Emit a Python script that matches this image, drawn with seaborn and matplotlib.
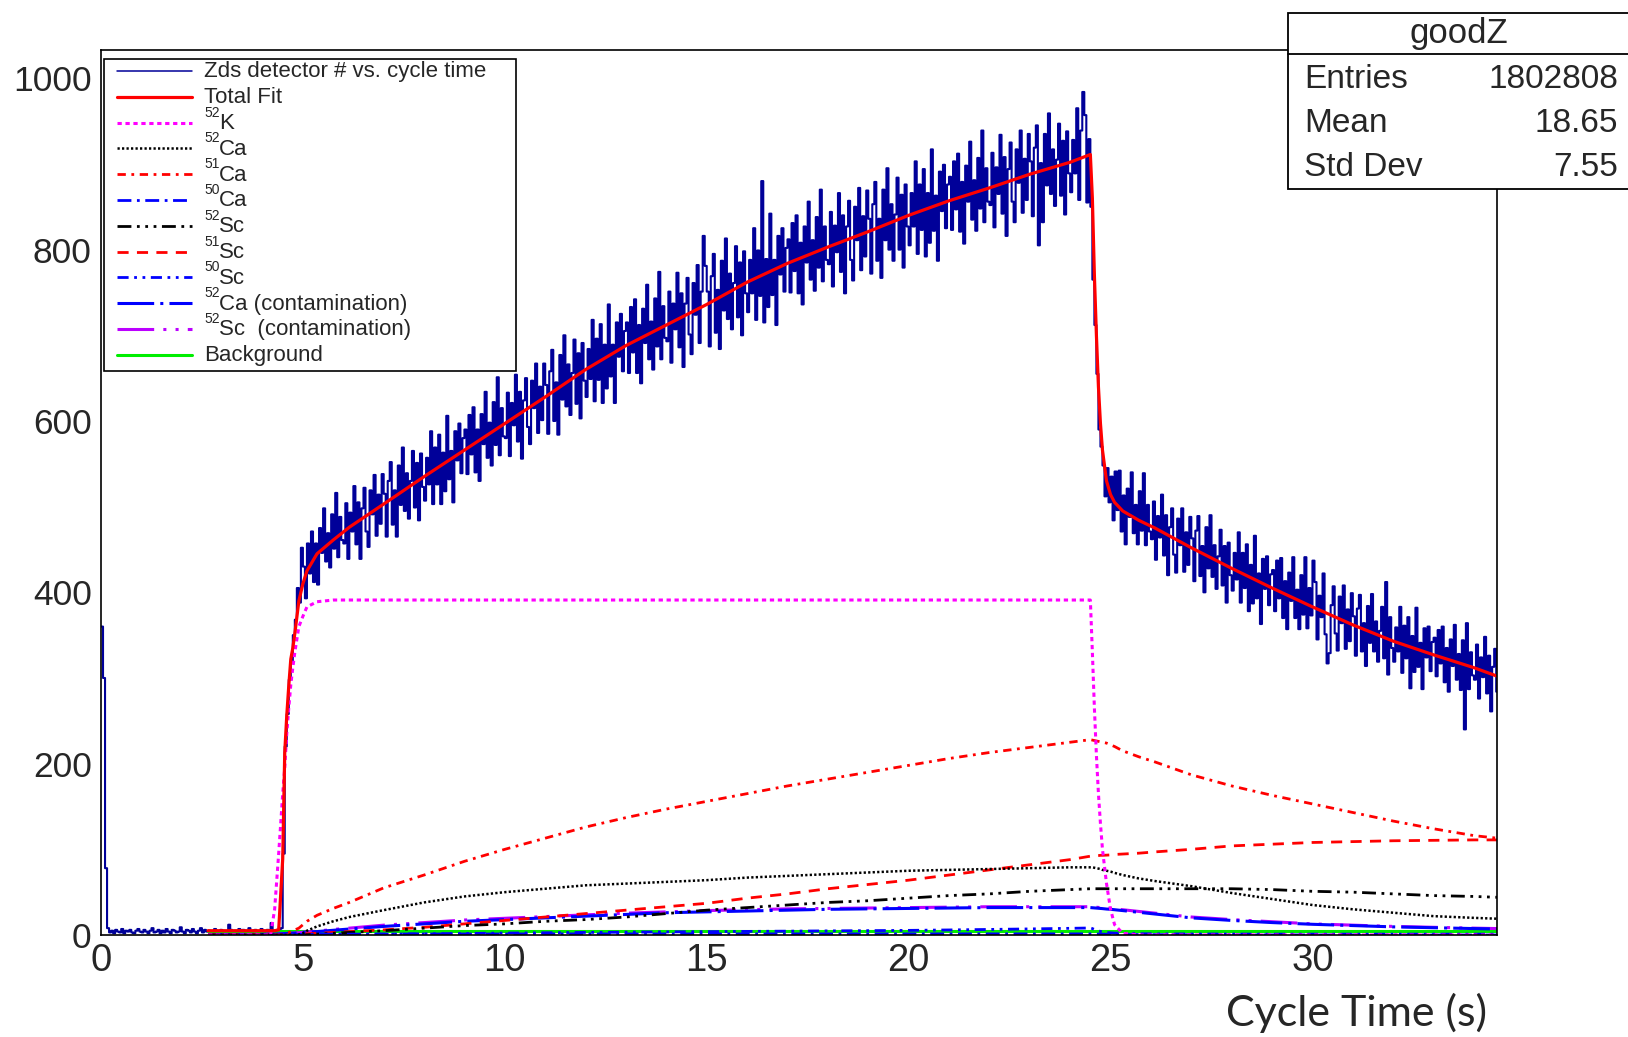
import matplotlib
matplotlib.use("Agg")
import matplotlib.pyplot as plt
from matplotlib import font_manager
from matplotlib.lines import Line2D
from matplotlib.patches import Rectangle
from matplotlib.ticker import MultipleLocator
import pandas as pd
import seaborn as sns

# Zds detector counts in 0.05 s cycle-time bins (one row per second)
bin_width = 0.05
counts = [
    360, 300, 78, 8, 3, 5, 2, 6, 4, 3, 7, 2, 5, 4, 6, 3, 2, 5, 7, 4,
    3, 6, 4, 2, 5, 8, 3, 4, 6, 2, 5, 3, 7, 4, 2, 6, 5, 3, 4, 9,
    4, 2, 6, 5, 3, 7, 4, 2, 5, 8, 3, 6, 4, 5, 2, 3, 7, 5, 4, 6,
    5, 3, 4, 12, 6, 2, 5, 4, 7, 3, 6, 5, 4, 8, 3, 5, 6, 4, 3, 7,
    5, 4, 6, 3, 14, 5, 4, 6, 5, 8, 95, 220, 258, 298, 318, 350, 368, 405, 388, 452,
    430, 393, 457, 422, 471, 412, 457, 409, 475, 446, 498, 436, 469, 429, 491, 451, 516, 441, 488, 461,
    457, 504, 439, 493, 471, 524, 456, 505, 439, 498, 522, 471, 453, 519, 491, 537, 466, 514, 480, 538,
    515, 465, 530, 552, 479, 519, 465, 548, 502, 569, 495, 539, 486, 530, 565, 499, 551, 484, 562, 523,
    507, 557, 526, 588, 503, 569, 526, 584, 503, 563, 518, 606, 532, 565, 505, 588, 554, 597, 539, 580,
    590, 538, 607, 561, 616, 540, 590, 530, 608, 573, 634, 557, 598, 548, 622, 572, 651, 560, 615, 582,
    580, 633, 559, 621, 595, 654, 576, 634, 556, 624, 650, 593, 573, 647, 615, 667, 586, 640, 601, 667,
    642, 585, 658, 683, 600, 645, 584, 677, 625, 700, 617, 666, 607, 656, 695, 620, 679, 603, 691, 647,
    628, 684, 649, 718, 623, 696, 648, 713, 621, 689, 638, 736, 652, 689, 621, 715, 675, 725, 658, 705,
    715, 656, 733, 680, 742, 656, 712, 644, 731, 691, 759, 672, 716, 660, 743, 687, 774, 672, 734, 697,
    693, 751, 668, 737, 707, 773, 686, 749, 663, 737, 767, 701, 678, 761, 724, 782, 691, 751, 816, 781,
    751, 687, 769, 795, 703, 753, 684, 787, 729, 813, 719, 772, 707, 761, 804, 721, 785, 700, 798, 749,
    727, 788, 749, 825, 718, 799, 746, 880, 715, 789, 733, 842, 747, 788, 712, 816, 771, 825, 751, 802,
    812, 750, 831, 775, 840, 749, 808, 736, 827, 785, 856, 765, 811, 752, 838, 779, 870, 763, 827, 788,
    783, 844, 757, 828, 797, 866, 774, 840, 749, 827, 857, 788, 764, 850, 811, 872, 776, 839, 792, 869,
    836, 772, 853, 879, 787, 836, 767, 870, 811, 895, 800, 853, 787, 841, 884, 800, 864, 779, 876, 827,
    805, 866, 827, 903, 795, 876, 823, 894, 792, 866, 808, 917, 822, 863, 787, 891, 845, 899, 825, 876,
    885, 823, 903, 847, 912, 821, 879, 807, 898, 856, 926, 835, 881, 822, 907, 848, 939, 832, 895, 856,
    852, 913, 826, 896, 865, 934, 842, 908, 816, 894, 925, 856, 832, 917, 878, 939, 843, 906, 858, 935,
    903, 839, 919, 945, 805, 901, 832, 935, 875, 959, 865, 917, 851, 905, 947, 863, 927, 841, 938, 889,
    867, 928, 889, 965, 858, 939, 984, 957, 855, 929, 850, 765, 712, 655, 590, 570, 548, 512, 545, 505,
    535, 484, 541, 496, 542, 471, 513, 456, 521, 488, 540, 469, 502, 456, 518, 472, 539, 455, 502, 471,
    462, 506, 438, 489, 464, 514, 443, 490, 420, 476, 498, 444, 423, 486, 455, 498, 424, 470, 432, 488,
    463, 413, 472, 489, 419, 454, 400, 476, 428, 490, 418, 455, 404, 442, 473, 408, 454, 388, 458, 420,
    402, 446, 415, 470, 388, 446, 405, 456, 378, 432, 387, 466, 393, 422, 363, 439, 404, 442, 385, 421,
    426, 378, 437, 393, 440, 370, 413, 357, 423, 390, 441, 370, 403, 357, 420, 374, 441, 358, 405, 373,
    437, 412, 345, 396, 371, 422, 351, 317, 329, 385, 407, 352, 332, 395, 364, 408, 334, 380, 343, 399,
    372, 326, 381, 397, 331, 364, 314, 384, 341, 398, 331, 366, 319, 355, 383, 323, 412, 304, 371, 335,
    319, 359, 331, 383, 306, 361, 323, 371, 288, 349, 307, 382, 313, 341, 287, 358, 324, 360, 308, 342,
    347, 302, 356, 317, 360, 295, 335, 284, 345, 314, 362, 298, 328, 286, 344, 240, 364, 287, 330, 303,
    298, 339, 276, 324, 301, 348, 282, 326, 261, 313, 334, 284,
]

# fit functions, sampled at these cycle times (s)
fit_time = [2.65, 3.5, 4.2, 4.3, 4.4,
            4.5, 4.55, 4.6, 4.65, 4.7, 4.75, 4.8, 4.9, 5.0, 5.1, 5.35, 5.75, 6.15,
            7, 8, 9, 10, 11, 12, 13, 14, 15, 16, 17, 18, 19, 20, 21, 22, 23, 24,
            24.5, 24.55, 24.6, 24.65, 24.7, 24.75, 24.8, 24.9, 25.0, 25.1, 25.3, 25.7, 26.1,
            27, 28, 29, 30, 31, 32, 33, 34, 34.58]

total_fit = [5, 5, 5, 5, 6,
             89, 213, 256, 291, 322, 335, 352, 390, 410, 425, 445, 461, 476,
             503, 535, 566, 597, 628, 660, 688, 712, 736, 762, 784, 803, 821, 840, 857, 872, 888, 902,
             911, 860, 770, 700, 640, 597, 566, 530, 514, 505, 495, 484, 475,
             452, 428, 405, 383, 362, 343, 327, 312, 302]

k52 = [0, 0, 0, 30, 95,
       165, 195, 235, 265, 292, 312, 330, 360, 372, 383, 389, 391, 391,
       391, 391, 391, 391, 391, 391, 391, 391, 391, 391, 391, 391, 391, 391, 391, 391, 391, 391,
       391, 330, 265, 210, 165, 130, 100, 60, 30, 12, 2, 0, 0,
       0, 0, 0, 0, 0, 0, 0, 0, 0]

ca52 = [0, 0, 0, 0, 0,
        0, 0, 0, 0, 0, 0, 0, 0.5, 2, 5, 10, 16, 21,
        29, 38, 45, 50, 54, 58, 60, 62, 64, 67, 69, 71, 73, 75, 76, 77, 78, 79,
        79, 79, 78.5, 78, 77.5, 77, 76, 75, 74, 72.5, 70, 66, 63,
        57, 49, 42, 35, 30, 26, 22, 20, 19]

ca51 = [0, 0, 0, 0, 0,
        0, 1, 2, 3, 4, 5, 6, 8, 12, 16, 23, 31, 38,
        55, 70, 86, 100, 113, 126, 137, 147, 156, 165, 174, 182, 190, 198, 206, 213, 219, 225,
        228, 227.5, 227, 226.5, 226, 225.5, 225, 224, 222, 220, 215, 208, 202,
        187, 174, 163, 153, 143, 133, 124, 116, 113]

ca50 = [0, 0, 0, 0, 0,
        0, 0.2, 0.3, 0.4, 0.5, 0.5, 0.6, 0.7, 0.8, 0.8, 0.9, 1, 1,
        1.1, 1.2, 1.2, 1.2, 1.3, 1.3, 1.3, 1.3, 1.3, 1.3, 1.3, 1.3, 1.3, 1.3, 1.3, 1.3, 1.3, 1.3,
        1.3, 1.3, 1.2, 1.2, 1.1, 1.1, 1.0, 0.9, 0.8, 0.7, 0.6, 0.5, 0.4,
        0.3, 0.2, 0.1, 0.1, 0.1, 0.1, 0, 0, 0]

sc52 = [0, 0, 0, 0, 0,
        0, 0, 0, 0, 0, 0, 0, 0, 0, 0.3, 1, 2, 3,
        5, 8, 11, 13, 16, 18, 21, 25, 29, 32, 35, 38, 40, 43, 46, 48, 51, 53,
        54, 54, 54, 54, 54, 54, 54, 54, 54, 54, 54, 54, 54,
        54, 54, 53, 51, 50, 48, 46, 45, 44]

sc51 = [0, 0, 0, 0, 0,
        0, 0, 0, 0, 0, 0, 0, 0, 1, 1.5, 2, 3, 4,
        6, 9, 13, 17, 21, 25, 29, 33, 37, 43, 48, 54, 59, 64, 70, 76, 82, 88,
        92, 92, 92.3, 92.5, 92.7, 93, 93, 93.2, 93.5, 94, 94.5, 95.5, 97,
        100, 104, 106, 108, 109, 110, 110.5, 111, 111]

sc50 = [0, 0, 0, 0, 0,
        0, 0, 0, 0, 0, 0, 0, 0, 0, 0.1, 0.2, 0.4, 0.6,
        1, 1.4, 1.8, 2.2, 2.6, 3.0, 3.3, 3.6, 3.9, 4.2, 4.5, 4.8, 5.1, 5.4, 5.9, 6.5, 7.1, 7.8,
        8.2, 7.5, 6.5, 5.5, 4.8, 4.2, 3.7, 3, 2.5, 2.2, 1.8, 1.5, 1.3,
        1.2, 1.1, 1, 1, 1, 1, 1, 1, 1]

ca52_contam = [0, 0.5, 1, 1, 1.2,
               1.5, 1.6, 1.7, 1.8, 2, 2.1, 2.2, 2.5, 3, 3.3, 4, 5.5, 7,
               10, 13, 16, 18, 20, 22, 24, 26, 27, 28, 29, 30, 30.5, 31, 31.5, 32, 32, 32,
               32, 31.8, 31.6, 31.4, 31.2, 31, 30.8, 30.3, 30, 29.5, 28.5, 26.5, 24.5,
               20, 17, 14.5, 12.5, 11, 9.5, 8.5, 7.5, 7]

sc52_contam = [0, 0.7, 1.2, 1.3, 1.4,
               1.6, 1.7, 1.8, 1.9, 2.1, 2.2, 2.4, 2.7, 3.2, 3.6, 4.5, 6.5, 8,
               11.5, 14.5, 17.5, 19.5, 21.5, 23.5, 25.5, 27, 28.5, 29.5, 30.5, 31, 31.5, 32, 32.5, 33, 33, 33,
               33, 32.8, 32.6, 32.4, 32.2, 32, 31.8, 31.3, 31, 30.5, 29.5, 27.5, 25.5,
               21, 18, 15.5, 13, 11.5, 10, 9, 8, 7.5]

background = [5] * len(fit_time)

stats_rows = [("Entries", "1802808"), ("Mean", "18.65"), ("Std Dev", "7.55")]
x_major, x_minor = 5, 1
y_major, y_minor = 200, 50

# ---------------------------------------------------------------- style
sns.set_style("white")
plt.rcParams["font.family"] = ["Liberation Sans", "DejaVu Sans"]

installed = {f.name for f in font_manager.fontManager.ttflist}
narrow = "Liberation Sans Narrow" if "Liberation Sans Narrow" in installed else "Liberation Sans"
label_font = "Lato" if "Lato" in installed else "Open Sans"

W, H = 1628, 1037
fig = plt.figure(figsize=(W / 100, H / 100), dpi=100)


def fx(px):
    return px / W


def fy(py):
    return 1 - py / H


ax = fig.add_axes([fx(101), fy(935), fx(1497) - fx(101), fy(50) - fy(935)])

edges = [round(i * bin_width, 4) for i in range(len(counts) + 1)]
hist_df = pd.DataFrame({"time": [e + bin_width / 2 for e in edges[:-1]], "counts": counts})
sns.histplot(data=hist_df, x="time", weights="counts", bins=edges, element="step",
             fill=False, color="#000099", linewidth=1.5, ax=ax)

# (series, colour, width, dash pattern, mass number, legend label)
components = [
    (k52, "#ff00ff", 2.2, (0, (1.4, 1.2)), "52", "K"),
    (ca52, "#000000", 1.8, (0, (0.9, 0.9)), "52", "Ca"),
    (ca51, "#ff0000", 2.0, (0, (3, 2, 1, 2)), "51", "Ca"),
    (ca50, "#0000ff", 2.0, (0, (5, 2, 1, 2)), "50", "Ca"),
    (sc52, "#000000", 2.0, (0, (5, 2, 1, 2, 1, 2, 1, 2)), "52", "Sc"),
    (sc51, "#ff0000", 2.0, (0, (4, 3)), "51", "Sc"),
    (sc50, "#0000ff", 2.0, (0, (4, 2, 1, 2, 1, 2)), "50", "Sc"),
    (ca52_contam, "#0000ff", 2.2, (0, (12, 2, 1, 2)), "52", "Ca (contamination)"),
    (sc52_contam, "#bb00ff", 2.2, (0, (12, 3, 1, 3, 1, 3)), "52", "Sc  (contamination)"),
    (background, "#00ee00", 2.2, "-", "", "Background"),
]

for vals, col, lw, ls, _, _ in components[::-1]:
    sns.lineplot(x=fit_time, y=vals, color=col, linewidth=lw, linestyle=ls,
                 estimator=None, errorbar=None, sort=False, ax=ax)

sns.lineplot(x=fit_time, y=total_fit, color="#ff0000", linewidth=2.3,
             estimator=None, errorbar=None, sort=False, ax=ax)

ax.set_xlim(0, 34.57)
ax.set_ylim(0, 1033)
ax.set_xlabel("")
ax.set_ylabel("")
ax.xaxis.set_major_locator(MultipleLocator(x_major))
ax.xaxis.set_minor_locator(MultipleLocator(x_minor))
ax.yaxis.set_major_locator(MultipleLocator(y_major))
ax.yaxis.set_minor_locator(MultipleLocator(y_minor))
ax.tick_params(axis="both", which="both", direction="in", top=False, right=False,
               color="black", width=1.0)
ax.tick_params(axis="y", which="major", length=30, pad=6.7, labelsize=25.5)
ax.tick_params(axis="y", which="minor", length=15)
ax.tick_params(axis="x", which="major", length=16.5, pad=5.8,
               labelsize=33 if narrow != "Liberation Sans" else 27.5,
               labelfontfamily=narrow)
ax.tick_params(axis="x", which="minor", length=7.5)
for sp in ax.spines.values():
    sp.set_color("black")
    sp.set_linewidth(1.2)
    sp.set_visible(True)

# ---------------------------------------------------------------- legend
fig.add_artist(Rectangle((fx(104), fy(371)), fx(516) - fx(104), fy(59) - fy(371),
                         transform=fig.transFigure, facecolor="white",
                         edgecolor="black", linewidth=1.2, zorder=5))
legend_rows = [("#000099", 1.1, "-", "", "Zds detector # vs. cycle time"),
               ("#ff0000", 2.3, "-", "", "Total Fit")]
legend_rows += [(c, lw, ls, mass, lab) for _, c, lw, ls, mass, lab in components]
for i, (col, lw, ls, mass, lab) in enumerate(legend_rows):
    yy = 71 + 25.8 * i
    fig.add_artist(Line2D([fx(117), fx(192)], [fy(yy), fy(yy)], transform=fig.transFigure,
                          color=col, linewidth=lw, linestyle=ls, zorder=6))
    x_text = 204
    if mass:
        fig.text(fx(204), fy(yy - 10), mass, fontsize=10, va="center", ha="left", zorder=6)
        x_text = 219
    fig.text(fx(x_text), fy(yy + 1), lab, fontsize=16, va="center", ha="left", zorder=6)

# ---------------------------------------------------------------- stats box
fig.add_artist(Rectangle((fx(1288), fy(189)), fx(1660) - fx(1288), fy(12.5) - fy(189),
                         transform=fig.transFigure, facecolor="white",
                         edgecolor="black", linewidth=1.3, zorder=5))
fig.add_artist(Line2D([fx(1288), fx(1628)], [fy(54), fy(54)], transform=fig.transFigure,
                      color="black", linewidth=1.3, zorder=6))
fig.text(fx(1459), fy(33), "goodZ", fontsize=25, ha="center", va="center", zorder=6)
for i, (name, val) in enumerate(stats_rows):
    yy = 80 + 43.5 * i
    fig.text(fx(1304), fy(yy), name, fontsize=24, ha="left", va="center", zorder=6)
    fig.text(fx(1618), fy(yy), val, fontsize=24, ha="right", va="center", zorder=6)

fig.text(fx(1487), fy(1026), "Cycle Time (s)", fontsize=31, ha="right", va="baseline",
         family=[label_font, "DejaVu Sans"])

fig.savefig("out.png", dpi=100)
